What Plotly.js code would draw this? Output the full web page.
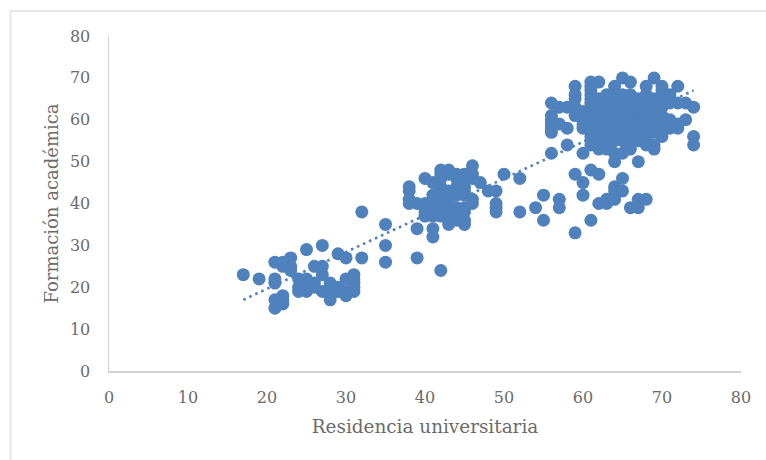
<!DOCTYPE html>
<html><head><meta charset="utf-8">
<script src="https://cdn.plot.ly/plotly-3.0.1.min.js"></script>
<style>html,body{margin:0;padding:0;background:#fff}</style>
</head><body><div id="chart" style="width:766px;height:460px"></div>
<script>
const residencia = [
17,19,21,21,21,21,21,22,22,22,22,22,23,23,23,24,24,24,25,25,25,25,25,26,26,26,27,27,27,27,28,28,28,28,28,29,29,29,30,30,30,30,31,31,31,31,31,32,32,35,35,35,39,39,
38,38,38,38,39,40,40,40,40,40,41,41,41,41,41,41,41,41,41,
42,42,42,42,42,42,42,42,42,42,42,
43,43,43,43,43,43,43,43,43,43,
44,44,44,44,44,44,44,44,44,
45,45,45,45,45,45,45,45,45,
46,46,46,46,46,47,48,49,49,49,49,50,52,52,54,55,55,57,57,
59,59,60,60,61,61,62,62,63,63,64,64,64,64,65,65,66,67,67,67,68,
56,56,56,56,56,56,56,57,57,58,58,58,59,59,59,59,59,60,60,60,60,60,
61,61,61,61,61,61,61,61,61,61,61,61,61,61,61,61,
62,62,62,62,62,62,62,62,62,62,62,62,62,62,
63,63,63,63,63,63,63,63,63,63,63,63,63,63,
64,64,64,64,64,64,64,64,64,64,64,64,64,64,
65,65,65,65,65,65,65,65,65,65,65,65,65,
66,66,66,66,66,66,66,66,66,66,66,66,66,66,
67,67,67,67,67,67,67,67,67,67,67,
68,68,68,68,68,68,68,68,68,68,68,68,
69,69,69,69,69,69,69,69,69,69,69,69,
70,70,70,70,70,70,70,70,70,70,
71,71,71,71,71,
72,72,72,72,73,73,74,74,74];
const formacion = [
23,22,26,22,21,17,15,26,25,18,17,16,27,25,24,22,20,19,29,22,21,20,19,25,21,20,30,25,23,19,21,20,19,18,17,28,20,19,27,22,19,18,23,22,21,20,19,38,27,35,30,26,27,34,
44,43,41,40,40,46,40,39,38,37,45,42,41,40,39,38,37,34,32,
48,47,46,44,42,41,40,39,38,37,24,
48,47,43,42,41,40,39,38,36,35,
47,46,44,43,42,39,38,37,36,
47,46,44,43,42,39,38,36,35,
49,47,46,41,40,45,43,43,40,39,38,47,46,38,39,42,36,41,39,
47,33,45,42,48,36,47,40,41,40,44,43,41,50,46,43,39,50,41,39,41,
64,61,60,59,58,57,52,63,59,63,58,54,68,66,65,63,61,62,60,59,58,52,
69,68,67,66,65,64,63,62,61,60,59,58,57,56,55,54,
69,65,64,63,62,61,60,59,58,57,56,55,54,53,
66,65,64,63,62,61,60,59,58,57,56,55,54,53,
68,66,65,64,63,62,61,60,59,58,57,56,55,52,
70,66,65,64,63,62,61,60,59,58,57,55,52,
69,66,65,64,63,62,61,60,59,58,57,56,55,53,
65,64,63,62,61,60,59,58,57,56,55,
68,66,65,63,62,61,60,59,58,57,56,54,
70,65,64,63,62,61,60,59,58,57,54,53,
68,67,65,63,61,60,59,58,57,56,
66,64,60,59,58,
68,64,59,58,64,60,63,56,54];
const trendX = [17,74];
const trendY = [17,67];
const xTicks = [0,10,20,30,40,50,60,70,80];
const yTicks = [0,10,20,30,40,50,60,70,80];
const titleX = 'Residencia universitaria';
const titleY = 'Formación académica';
const blue = '#4F81BD';
const serif = '"DejaVu Serif", serif';
const grey = '#6b6b6b';
const axisCommon = {range:[0,80],showgrid:false,zeroline:false,showline:true,linecolor:'#d2d2d2',linewidth:1.5,ticks:'',automargin:false,tickfont:{size:16,color:grey}};
Plotly.newPlot('chart',[
 {x:residencia,y:formacion,mode:'markers',type:'scatter',marker:{color:blue,size:13,line:{width:0}},hoverinfo:'x+y'},
 {x:trendX,y:trendY,mode:'lines',type:'scatter',line:{color:blue,width:2.6,dash:'2.6px,4px'},hoverinfo:'skip'}
],{
 width:766,height:460,showlegend:false,paper_bgcolor:'#fff',plot_bgcolor:'#fff',
 margin:{l:109,r:25,t:36,b:89,pad:0},
 font:{family:serif,color:grey,size:16},
 xaxis:Object.assign({},axisCommon,{tickvals:xTicks,ticktext:xTicks.map(String),ticklabelstandoff:11,
   title:{text:titleX,standoff:14,font:{size:18.4,color:grey}}}),
 yaxis:Object.assign({},axisCommon,{tickvals:yTicks,ticktext:yTicks.map(String),ticklabelstandoff:14,
   title:{text:titleY,standoff:6,font:{size:18,color:grey}}}),
 shapes:[
  {type:'line',xref:'paper',yref:'paper',x0:-0.1559,x1:-0.1559,y0:-0.2657,y1:1.0746,line:{color:'#e6e6e6',width:2}},
  {type:'line',xref:'paper',yref:'paper',x0:-0.1559,x1:1.0396,y0:1.0746,y1:1.0746,line:{color:'#e6e6e6',width:2}}
 ]
},{staticPlot:true,displayModeBar:false});
</script></body></html>
